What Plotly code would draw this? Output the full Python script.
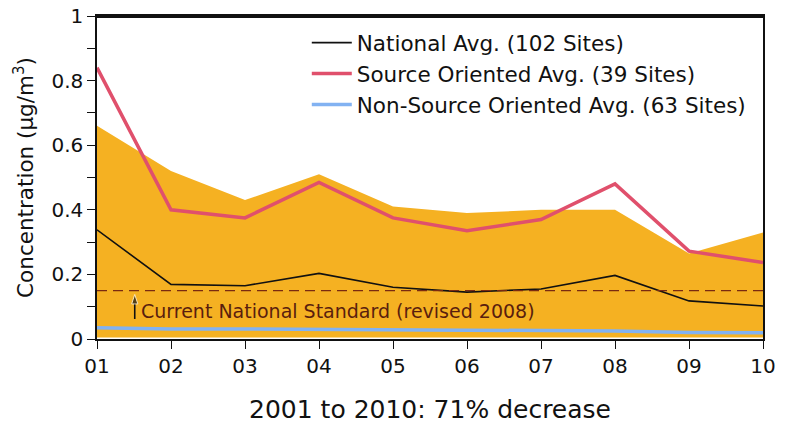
import plotly.graph_objects as go

years = [1, 2, 3, 4, 5, 6, 7, 8, 9, 10]
year_labels = ["01", "02", "03", "04", "05", "06", "07", "08", "09", "10"]
upper_band = [0.66, 0.52, 0.43, 0.51, 0.41, 0.39, 0.40, 0.40, 0.265, 0.33]
lower_band = [0.005, 0.005, 0.005, 0.005, 0.005, 0.005, 0.005, 0.005, 0.005, 0.005]
national = [0.338, 0.169, 0.165, 0.203, 0.160, 0.145, 0.155, 0.197, 0.118, 0.102]
source = [0.84, 0.40, 0.375, 0.485, 0.375, 0.335, 0.37, 0.48, 0.272, 0.237]
non_source = [0.035, 0.031, 0.031, 0.030, 0.028, 0.027, 0.027, 0.025, 0.020, 0.019]
standard = 0.15
arrow_x = [1.51, 1.51]
arrow_y = [0.062, 0.138]

ORANGE = "#F5B122"
FONT = "DejaVu Sans, Liberation Sans, Arial, sans-serif"

fig = go.Figure()
fig.add_trace(go.Scatter(x=years, y=lower_band, mode="lines", line=dict(width=0),
                         showlegend=False, hoverinfo="skip"))
fig.add_trace(go.Scatter(x=years, y=upper_band, mode="lines", line=dict(width=0),
                         fill="tonexty", fillcolor=ORANGE, showlegend=False, hoverinfo="skip"))
fig.add_trace(go.Scatter(x=years, y=non_source, mode="lines",
                         line=dict(color="#82B2F2", width=3.5),
                         name="Non-Source Oriented Avg. (63 Sites)", legendgroup="c", legendrank=3))
fig.add_trace(go.Scatter(x=years, y=source, mode="lines",
                         line=dict(color="#E0506C", width=3.5),
                         name="Source Oriented Avg. (39 Sites)", legendgroup="b", legendrank=2))
fig.add_trace(go.Scatter(x=years, y=national, mode="lines",
                         line=dict(color="#111111", width=1.6),
                         name="National Avg. (102 Sites)", legendgroup="a", legendrank=1))
fig.add_trace(go.Scatter(x=arrow_x, y=arrow_y, mode="lines+markers",
                         line=dict(color="#111111", width=1.6),
                         marker=dict(symbol=["circle", "arrow"], size=[0, 10], angleref="previous",
                                     color="#111111"),
                         showlegend=False, hoverinfo="skip"))

fig.add_shape(type="line", xref="paper", x0=0, x1=1, yref="y", y0=standard, y1=standard,
              line=dict(color="#7A2A10", width=1.3, dash="10px,6px"))
fig.add_shape(type="line", xref="paper", x0=0, x1=1, yref="y", y0=0.997, y1=0.997,
              layer="above", line=dict(color="#111111", width=2))
fig.add_annotation(x=1.57, y=0.086, xref="x", yref="y", xanchor="left", yanchor="middle",
                   text="Current National Standard (revised 2008)", showarrow=False,
                   font=dict(family=FONT, size=19, color="#5A1E0E"))

fig.update_layout(
    width=787, height=425,
    margin=dict(l=89, r=32, t=8, b=94),
    paper_bgcolor="white", plot_bgcolor="white",
    font=dict(family=FONT, size=20, color="#111111"),
    showlegend=True,
    legend=dict(x=0.315, y=0.981, xanchor="left", yanchor="top",
                bgcolor="rgba(0,0,0,0)", font=dict(size=21.5, family=FONT, color="#111111"),
                tracegroupgap=14, itemwidth=40, traceorder="normal"),
    xaxis=dict(range=[1, 10], tickmode="array", tickvals=years, ticktext=year_labels,
               ticks="outside", ticklen=8, tickwidth=1.2, tickcolor="#111111",
               showline=True, linecolor="#111111", linewidth=1.5, mirror=True,
               showgrid=False, zeroline=False, automargin=False, ticklabeloverflow="allow",
               title=dict(text="2001 to 2010: 71% decrease", font=dict(size=25, family=FONT),
                          standoff=24),
               tickfont=dict(size=20)),
    yaxis=dict(range=[0, 1], tickvals=[0, 0.2, 0.4, 0.6, 0.8, 1],
               ticktext=["0", "0.2", "0.4", "0.6", "0.8", "1"],
               ticks="outside", ticklen=8, tickwidth=1.2, tickcolor="#111111",
               minor=dict(dtick=0.1, ticks="outside", ticklen=8, tickcolor="#111111", showgrid=False),
               showline=True, linecolor="#111111", linewidth=1.5, mirror=True,
               showgrid=False, zeroline=False, automargin=False, ticklabeloverflow="allow",
               title=dict(text="Concentration (µg/m<sup>3</sup>)", font=dict(size=21.5, family=FONT),
                          standoff=12),
               tickfont=dict(size=20)),
)

fig.write_html("out.html")
